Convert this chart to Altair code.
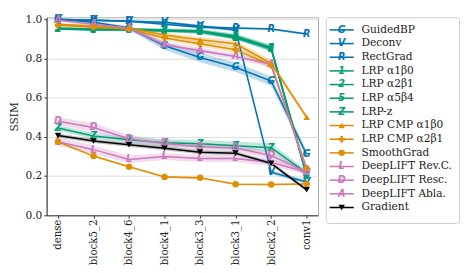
import altair as alt
import pandas as pd

layers = ["dense", "block5_2", "block4_6", "block4_1", "block3_3", "block3_1", "block2_2", "conv1"]

names = ["GuidedBP", "Deconv", "RectGrad", "LRP α1β0", "LRP α2β1", "LRP α5β4", "LRP-z",
         "LRP CMP α1β0", "LRP CMP α2β1", "SmoothGrad", "DeepLIFT Rev.C.", "DeepLIFT Resc.",
         "DeepLIFT Abla.", "Gradient"]
colors = ["#0173b2", "#0173b2", "#0173b2", "#029e73", "#029e73", "#029e73", "#029e73",
          "#de8f05", "#de8f05", "#de8f05", "#cc78bc", "#cc78bc", "#cc78bc", "#000000"]
markers = ["G", "V", "R", "1", "2", "5", "Z", "^", "+", "o", "L", "D", "A", "v"]

guided = [1.0, 0.985, 0.955, 0.865, 0.805, 0.755, 0.685, 0.31]
deconv = [1.0, 0.995, 0.99, 0.985, 0.965, 0.945, 0.22, 0.17]
rect = [0.997, 0.995, 0.99, 0.975, 0.96, 0.955, 0.95, 0.925]
lrp_a1b0 = [0.95, 0.945, 0.945, 0.94, 0.935, 0.905, 0.85, 0.21]
lrp_a2b1 = [0.952, 0.948, 0.948, 0.943, 0.938, 0.91, 0.852, 0.2]
lrp_a5b4 = [0.955, 0.95, 0.95, 0.945, 0.94, 0.915, 0.855, 0.2]
lrp_z = [0.445, 0.405, 0.385, 0.37, 0.365, 0.355, 0.345, 0.215]
cmp_a1b0 = [0.975, 0.965, 0.955, 0.92, 0.895, 0.875, 0.775, 0.5]
cmp_a2b1 = [0.97, 0.96, 0.95, 0.905, 0.875, 0.845, 0.765, 0.24]
smooth = [0.375, 0.302, 0.248, 0.196, 0.191, 0.158, 0.157, 0.16]
dl_revc = [0.375, 0.335, 0.285, 0.30, 0.29, 0.29, 0.27, 0.22]
dl_resc = [0.48, 0.448, 0.39, 0.366, 0.35, 0.343, 0.305, 0.22]
dl_abla = [0.995, 0.975, 0.955, 0.87, 0.84, 0.81, 0.77, 0.23]
gradient = [0.407, 0.379, 0.36, 0.342, 0.322, 0.317, 0.265, 0.13]

err_guided = [0.004, 0.006, 0.01, 0.022, 0.024, 0.024, 0.024, 0.02]
err_deconv = [0.003, 0.004, 0.005, 0.006, 0.008, 0.008, 0.01, 0.01]
err_rect = [0.003, 0.004, 0.005, 0.006, 0.006, 0.006, 0.006, 0.006]
err_lrp = [0.005, 0.005, 0.006, 0.008, 0.01, 0.012, 0.015, 0.01]
err_lrp_z = [0.015, 0.015, 0.015, 0.018, 0.02, 0.02, 0.022, 0.015]
err_cmp = [0.006, 0.006, 0.008, 0.012, 0.015, 0.015, 0.018, 0.01]
err_smooth = [0.006, 0.006, 0.006, 0.005, 0.005, 0.005, 0.005, 0.005]
err_dl = [0.022, 0.022, 0.02, 0.018, 0.018, 0.018, 0.018, 0.012]
err_abla = [0.006, 0.008, 0.01, 0.015, 0.015, 0.015, 0.015, 0.01]
err_grad = [0.01, 0.01, 0.01, 0.01, 0.01, 0.01, 0.01, 0.008]

values = [guided, deconv, rect, lrp_a1b0, lrp_a2b1, lrp_a5b4, lrp_z, cmp_a1b0, cmp_a2b1,
          smooth, dl_revc, dl_resc, dl_abla, gradient]
errs = [err_guided, err_deconv, err_rect, err_lrp, err_lrp, err_lrp, err_lrp_z, err_cmp, err_cmp,
        err_smooth, err_dl, err_dl, err_abla, err_grad]

rows = []
for i, (n, m, vals, es) in enumerate(zip(names, markers, values, errs)):
    for j, (lay, v, e) in enumerate(zip(layers, vals, es)):
        rows.append({"series": n, "order": i, "layer": lay, "ssim": v,
                     "lo": v - e, "hi": v + e, "marker": m})
df = pd.DataFrame(rows)

shape_markers = {"^": "triangle-up", "+": "cross", "o": "circle", "v": "triangle-down"}
shape_series = [n for n, m in zip(names, markers) if m in shape_markers]
shape_range = [shape_markers[m] for m in markers if m in shape_markers]

color_scale = alt.Scale(domain=names, range=colors)
FONT = "DejaVu Serif, Liberation Serif, serif"

x_enc = alt.X("layer:N", sort=layers, title=None,
              scale=alt.Scale(type="point", padding=0.32),
              axis=alt.Axis(labelAngle=-90, labelFontSize=10.5, labelFont=FONT, labelColor="#222",
                            tickSize=3, labelPadding=1, domainColor="#333", tickColor="#333",
                            gridColor="#dddddd", labelBaseline="middle", labelAlign="right"))
y_enc = alt.Y("ssim:Q", title="SSIM", scale=alt.Scale(domain=[0, 1.01], nice=False),
              axis=alt.Axis(values=[0, 0.2, 0.4, 0.6, 0.8, 1.0], format=".1f",
                            labelFontSize=11, labelFont=FONT, labelColor="#222",
                            titleFont=FONT, titleFontSize=11, titleFontWeight="normal",
                            titleColor="#222", titlePadding=6, tickSize=3, labelPadding=2,
                            domainColor="#333", tickColor="#333", gridColor="#dddddd"))

base = alt.Chart(df)
color_enc = alt.Color("series:N", scale=color_scale, legend=None)

bands = base.mark_area(opacity=0.25).encode(
    x=x_enc, y=alt.Y("lo:Q"), y2="hi:Q", color=color_enc, detail="series:N")
lines = base.mark_line(strokeWidth=1.6).encode(
    x=x_enc, y=y_enc, color=color_enc, detail="series:N", order="order:Q")
letters = base.transform_filter(
    alt.FieldOneOfPredicate(field="series", oneOf=[n for n in names if n not in shape_series])
).mark_text(font="DejaVu Sans", fontSize=10, fontWeight="bold", fontStyle="italic",
            baseline="middle", align="center").encode(
    x=x_enc, y=y_enc, color=color_enc, text="marker:N")
points = base.transform_filter(
    alt.FieldOneOfPredicate(field="series", oneOf=shape_series)
).mark_point(filled=True, size=45, opacity=1).encode(
    x=x_enc, y=y_enc, color=color_enc,
    shape=alt.Shape("series:N", scale=alt.Scale(domain=shape_series, range=shape_range), legend=None))

main = alt.layer(bands, lines, letters, points).properties(
    width=281, height=205, view=alt.ViewBackground(stroke="#aaaaaa", strokeWidth=1))

# legend panel
leg_df = pd.DataFrame({"series": names, "marker": markers, "order": list(range(len(names)))})
leg_base = alt.Chart(leg_df)
leg_y = alt.Y("series:N", sort=names, scale=alt.Scale(type="point", range=[6, 204]), axis=None)
leg_color = alt.Color("series:N", scale=color_scale, legend=None)
leg_rule = leg_base.mark_rule(strokeWidth=1.6).encode(
    x=alt.value(4), x2=alt.value(29), y=leg_y, color=leg_color)
leg_letters = leg_base.transform_filter(
    alt.FieldOneOfPredicate(field="series", oneOf=[n for n in names if n not in shape_series])
).mark_text(font="DejaVu Sans", fontSize=10, fontWeight="bold", fontStyle="italic",
            baseline="middle", align="center").encode(
    x=alt.value(16.5), y=leg_y, color=leg_color, text="marker:N")
leg_points = leg_base.transform_filter(
    alt.FieldOneOfPredicate(field="series", oneOf=shape_series)
).mark_point(filled=True, size=45, opacity=1).encode(
    x=alt.value(16.5), y=leg_y, color=leg_color,
    shape=alt.Shape("series:N", scale=alt.Scale(domain=shape_series, range=shape_range), legend=None))
leg_text = leg_base.mark_text(font=FONT, fontSize=11, align="left", baseline="middle",
                              color="#222").encode(
    x=alt.value(37), y=leg_y, text="series:N")
legend = alt.layer(leg_rule, leg_letters, leg_points, leg_text).properties(
    width=138, height=213,
    view=alt.ViewBackground(stroke="#cccccc", strokeWidth=1, cornerRadius=3))

chart = alt.hconcat(main, legend, spacing=6).resolve_scale(
    shape="shared", color="shared", y="independent").configure_view(
    stroke="#aaaaaa").properties(padding={"left": 0, "top": 0, "right": 0, "bottom": 0})

chart.save("out.html", embed_options={"renderer": "svg", "actions": False})
